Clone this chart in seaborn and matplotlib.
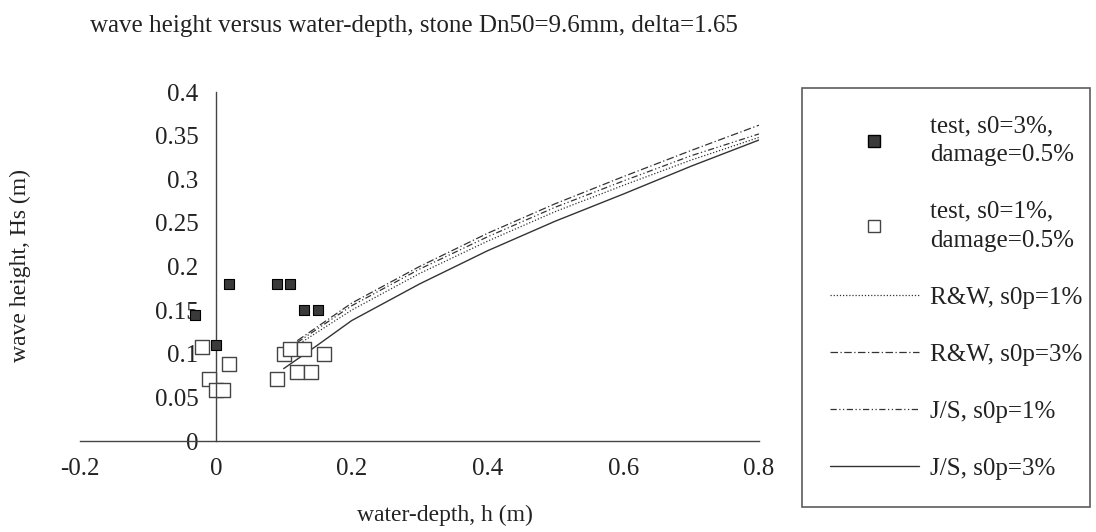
import pandas as pd
import matplotlib.pyplot as plt
import seaborn as sns
from matplotlib.lines import Line2D

# giao dien trang, font kieu Times
sns.set_style("white")
plt.rcParams['font.family'] = ['Liberation Serif', 'DejaVu Serif']

# --- du lieu do thi ---
test3_h = [-0.03, 0.0, 0.02, 0.09, 0.11, 0.13, 0.15]
test3_hs = [0.145, 0.11, 0.18, 0.18, 0.18, 0.15, 0.15]

test1_h = [-0.02, -0.01, 0.0, 0.01, 0.02, 0.09, 0.10, 0.11, 0.12, 0.13, 0.14, 0.16]
test1_hs = [0.108, 0.071, 0.059, 0.059, 0.088, 0.071, 0.10, 0.105, 0.079, 0.105, 0.079, 0.10]

rw1_h = [0.12, 0.2, 0.3, 0.4, 0.5, 0.6, 0.7, 0.8]
rw1_hs = [0.110, 0.150, 0.192, 0.229, 0.263, 0.293, 0.322, 0.348]

rw3_h = [0.12, 0.2, 0.3, 0.4, 0.5, 0.6, 0.7, 0.8]
rw3_hs = [0.115, 0.158, 0.200, 0.238, 0.272, 0.303, 0.333, 0.362]

js1_h = [0.12, 0.2, 0.3, 0.4, 0.5, 0.6, 0.7, 0.8]
js1_hs = [0.113, 0.155, 0.197, 0.234, 0.268, 0.298, 0.327, 0.352]

js3_h = [0.10, 0.15, 0.2, 0.3, 0.4, 0.5, 0.6, 0.7, 0.8]
js3_hs = [0.083, 0.110, 0.138, 0.180, 0.218, 0.252, 0.283, 0.315, 0.345]

x_ticks = [-0.2, 0.0, 0.2, 0.4, 0.6, 0.8]
x_labels = ['-0.2', '0', '0.2', '0.4', '0.6', '0.8']
y_ticks = [0, 0.05, 0.1, 0.15, 0.2, 0.25, 0.3, 0.35, 0.4]
y_labels = ['0', '0.05', '0.1', '0.15', '0.2', '0.25', '0.3', '0.35', '0.4']

legend_labels = ['test, s0=3%,\ndamage=0.5%', 'test, s0=1%,\ndamage=0.5%',
                 'R&W, s0p=1%', 'R&W, s0p=3%', 'J/S, s0p=1%', 'J/S, s0p=3%']

fig = plt.figure(figsize=(10.96, 5.32), dpi=100)
ax = fig.add_axes([0.073, 0.171, 0.6195, 0.656])

# cac duong ly thuyet
ls_rw1 = (0, (1, 1.5))
ls_rw3 = (0, (6, 2, 1, 2))
ls_js1 = (0, (5, 2, 1, 2, 1, 2))
sns.lineplot(x=rw1_h, y=rw1_hs, ax=ax, color='#333333', lw=0.9, linestyle=ls_rw1)
sns.lineplot(x=rw3_h, y=rw3_hs, ax=ax, color='#333333', lw=0.9, linestyle=ls_rw3)
sns.lineplot(x=js1_h, y=js1_hs, ax=ax, color='#333333', lw=0.9, linestyle=ls_js1)
sns.lineplot(x=js3_h, y=js3_hs, ax=ax, color='#333333', lw=1.0, linestyle='-')

# cac diem thi nghiem
sns.scatterplot(x=test3_h, y=test3_hs, ax=ax, marker='s', s=55,
                color='#3a3a3a', edgecolor='black', linewidth=0.8, zorder=3)
sns.scatterplot(x=test1_h, y=test1_hs, ax=ax, marker='s', s=90,
                color='white', edgecolor='#444444', linewidth=1.0, zorder=3)

ax.set_xlim(-0.2, 0.8)
ax.set_ylim(0, 0.4)

# truc cat nhau tai 0 giong Excel
ax.spines['top'].set_visible(False)
ax.spines['right'].set_visible(False)
ax.spines['left'].set_position(('data', 0))
ax.spines['bottom'].set_position(('data', 0))
for sp in ['left', 'bottom']:
    ax.spines[sp].set_color('#444444')
    ax.spines[sp].set_linewidth(1.0)

ax.set_xticks(x_ticks)
ax.set_xticklabels(x_labels)
ax.set_yticks(y_ticks)
ax.set_yticklabels(y_labels)
ax.tick_params(axis='both', direction='inout', length=9, width=1.0,
               color='#444444', labelsize=18, labelcolor='#222222', pad=8)
ax.grid(False)

# nhan truc va tieu de
fig.text(90 / 1096, 1 - 26 / 532, 'wave height versus water-depth, stone Dn50=9.6mm, delta=1.65',
         fontsize=18, ha='left', va='center', color='#222222')
fig.text(445 / 1096, 1 - 515 / 532, 'water-depth, h (m)', fontsize=17,
         ha='center', va='center', color='#222222')
fig.text(20 / 1096, 1 - 266 / 532, 'wave height, Hs (m)', fontsize=17,
         rotation=90, ha='center', va='center', color='#222222')

# chu giai
handles = [
    Line2D([], [], ls='none', marker='s', ms=8, mfc='#3a3a3a', mec='black'),
    Line2D([], [], ls='none', marker='s', ms=9, mfc='white', mec='#444444'),
    Line2D([], [], color='#333333', lw=0.9, ls=ls_rw1),
    Line2D([], [], color='#333333', lw=0.9, ls=ls_rw3),
    Line2D([], [], color='#333333', lw=0.9, ls=ls_js1),
    Line2D([], [], color='#333333', lw=1.0, ls='-'),
]
leg = fig.legend(handles, legend_labels, loc='upper left',
                 bbox_to_anchor=(802 / 1096, 1 - 88 / 532, 288 / 1096, 0),
                 mode='expand', fontsize=18, frameon=True, fancybox=False,
                 edgecolor='#333333', handlelength=3.56, handletextpad=0.45,
                 labelspacing=1.38, borderpad=1.1, borderaxespad=0)
leg.get_frame().set_linewidth(1.2)
for t in leg.get_texts():
    t.set_color('#222222')
    t.set_linespacing(1.4)

fig.savefig('out.png', dpi=100)
